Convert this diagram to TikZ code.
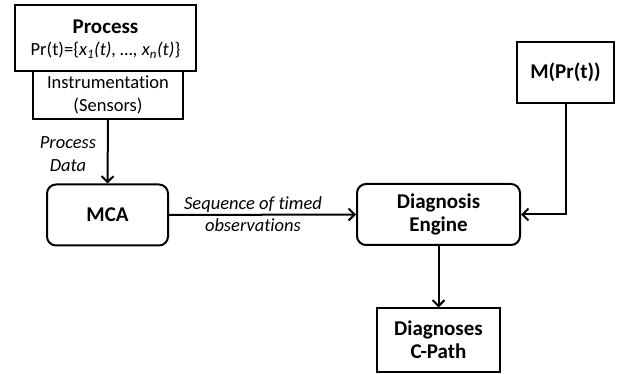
\documentclass[tikz,border=0pt]{standalone}
\usepackage{fontspec}
\setmainfont[Ligatures=NoCommon]{Carlito}
\usetikzlibrary{arrows.meta}
\usetikzlibrary{calc}

\tikzset{
  blk/.style={draw,line width=2pt,align=center,inner sep=0pt},
  rblk/.style={blk,rounded corners=9pt},
  big/.style={font=\fontsize{21}{23}\selectfont\bfseries},
  small/.style={font=\fontsize{18.5}{22.5}\selectfont},
  flow/.style={line width=2pt,-{Straight Barb[length=6pt,width=12pt,line width=2pt]}}
}

\begin{document}
\begin{tikzpicture}[x=1pt,y=-1pt]
	\useasboundingbox (0,0) rectangle (627,374);

	\begin{scope}[every node/.style={blk}]
		\node[minimum width=181pt,minimum height=66pt] (proc) at (105.5,38) {};
		\node[minimum width=150pt,minimum height=48pt,small] (instr) at (108,95) {Instrumentation\\(Sensors)};
		\node[minimum width=97pt,minimum height=61pt,big] (model) at (565.5,72.5) {M(Pr(t))};
		\node[minimum width=123pt,minimum height=63pt,big] (diagn) at (438.5,340) {Diagnoses\\C-Path};
	\end{scope}

	\begin{scope}[every node/.style={rblk,big}]
		\node[minimum width=121pt,minimum height=61pt] (mca) at (107.5,215) {MCA};
		\node[minimum width=163pt,minimum height=61pt] (diag) at (438.5,214.5) {Diagnosis\\Engine};
	\end{scope}

	% text of the process box
	\node[big] (ptitle) at (105.5,27) {Process};
	\node[small] (pdef) at (105.5,50) {Pr(t)=\{\textit{x\textsubscript{1}(t), \dots, x\textsubscript{n}(t)}\}};

	\node[small,align=center,font=\fontsize{18.5}{22.5}\selectfont\itshape] (pdata) at (68,154) {Process\\Data};
	\node[small,align=center,font=\fontsize{18.5}{22.5}\selectfont\itshape] (seq) at (253,214) {Sequence of timed\\observations};

	\draw[flow] (instr.south) -- (mca.north);
	\draw[flow] (mca.east) -- (diag.west);
	\draw[flow] (model.south) |- (diag.east);
	\draw[flow] (diag.south) -- (diagn.north);

\end{tikzpicture}
\end{document}
